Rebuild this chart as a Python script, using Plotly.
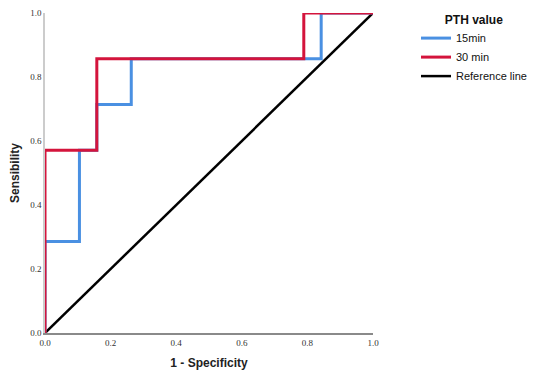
import plotly.graph_objects as go

# ROC step points (1 - specificity, sensitivity)
fpr_15 = [0.0, 0.0, 0.105, 0.105, 0.158, 0.158, 0.263, 0.263, 0.842, 0.842, 1.0]
tpr_15 = [0.0, 0.286, 0.286, 0.571, 0.571, 0.714, 0.714, 0.857, 0.857, 1.0, 1.0]

fpr_30 = [0.0, 0.0, 0.158, 0.158, 0.789, 0.789, 1.0]
tpr_30 = [0.0, 0.571, 0.571, 0.857, 0.857, 1.0, 1.0]

ref_x = [0.0, 1.0]
ref_y = [0.0, 1.0]

tick_vals = [0.0, 0.2, 0.4, 0.6, 0.8, 1.0]
tick_text = ["0.0", "0.2", "0.4", "0.6", "0.8", "1.0"]

fig = go.Figure()
fig.add_trace(go.Scatter(x=ref_x, y=ref_y, mode="lines", name="Reference line",
                         line=dict(color="#000000", width=2.5), legendrank=3))
fig.add_trace(go.Scatter(x=fpr_15, y=tpr_15, mode="lines", name="15min",
                         line=dict(color="#4A90E2", width=3), legendrank=1))
fig.add_trace(go.Scatter(x=fpr_30, y=tpr_30, mode="lines", name="30 min",
                         line=dict(color="#D4143C", width=3), legendrank=2))

# page body has an 8px margin, so the figure is sized to fit the window
fig.update_layout(
    width=528, height=369,
    margin=dict(l=37, r=163, t=5, b=44, autoexpand=False),
    plot_bgcolor="white", paper_bgcolor="white",
    showlegend=True,
    legend=dict(
        xref="container", yref="container",
        x=408 / 528, y=1.015, xanchor="left", yanchor="top",
        title=dict(text="<b>PTH value</b>", side="top center",
                   font=dict(family="Liberation Sans", size=12, color="#111")),
        font=dict(family="Liberation Sans", size=11, color="#111"),
        tracegroupgap=0, itemwidth=30,
        bgcolor="rgba(0,0,0,0)",
    ),
    xaxis=dict(
        range=[0, 1], tickvals=tick_vals, ticktext=tick_text,
        showgrid=False, zeroline=False, showline=True, automargin=False,
        linecolor="#8a8a8a", linewidth=1.5, ticks="",
        tickfont=dict(family="Liberation Serif", size=9, color="#333"),
        title=dict(text="<b>1 - Specificity</b>", standoff=12,
                   font=dict(family="Liberation Sans", size=12, color="#222")),
    ),
    yaxis=dict(
        range=[0, 1], tickvals=tick_vals, ticktext=tick_text,
        showgrid=False, zeroline=False, showline=True, automargin=False,
        linecolor="#cccccc", linewidth=1.5, ticks="",
        tickfont=dict(family="Liberation Serif", size=9, color="#333"),
        title=dict(text="<b>Sensibility</b>", standoff=10,
                   font=dict(family="Liberation Sans", size=12, color="#222")),
    ),
)

fig.write_html("out.html")
